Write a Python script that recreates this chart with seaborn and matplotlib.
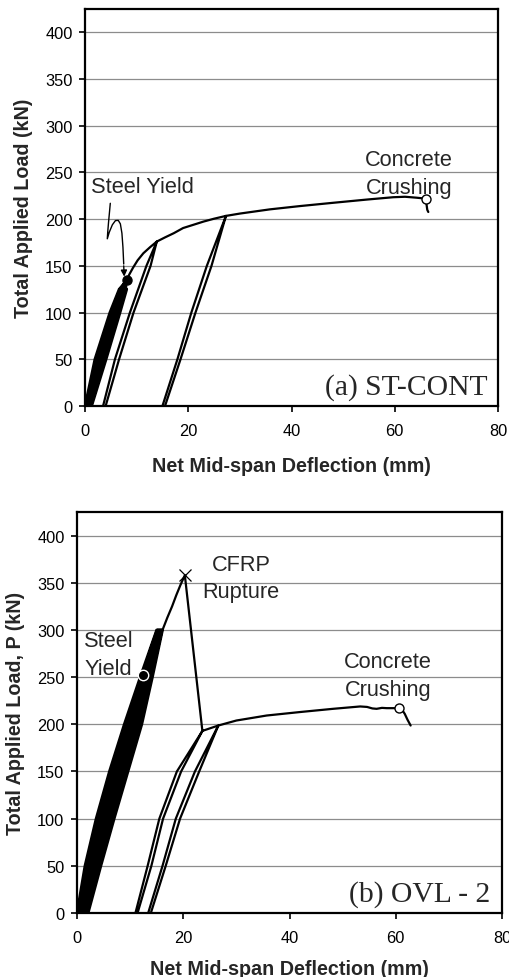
import numpy as np
import pandas as pd
import matplotlib
matplotlib.use("Agg")
import matplotlib.pyplot as plt
import seaborn as sns

# ---------------- data: panel (a) ST-CONT ----------------
# repeated service cycles up to steel yield (load / unload branches)
a_cyc_x = [0.00, 1.90, 4.80, 6.60, 8.0,
           6.79, 5.05, 2.18, 0.16, 0.33,
           2.45, 5.30, 6.98, 8.0,
           7.16, 5.55, 2.73, 0.49, 0.65,
           3.00, 5.80, 7.35, 8.0,
           7.54, 6.05, 3.28, 0.81, 0.98,
           3.55, 6.30, 7.73, 8.0,
           7.91, 6.55, 3.83, 1.14, 1.30,
           4.10, 6.80, 8.10]
a_cyc_y = [0, 50, 100, 125, 134,
           125, 100, 50, 0, 0,
           50, 100, 125, 134,
           125, 100, 50, 0, 0,
           50, 100, 125, 134,
           125, 100, 50, 0, 0,
           50, 100, 125, 134,
           125, 100, 50, 0, 0,
           50, 100, 125]
# post-yield envelope with two unload/reload loops, up to crushing
a_env_x = [8.1, 8.6, 9.3, 10.2, 11.3, 12.6, 13.9,
           12.7, 9.4, 6.6, 4.0, 3.5,
           5.8, 8.7, 11.9, 13.9,
           15.5, 17.2, 19.0, 21.0, 23.0, 25.0, 27.3,
           24.5, 21.4, 18.5, 15.5, 15.0,
           17.9, 20.6, 23.6, 27.3,
           30.0, 35.8, 41.6, 48.0, 54.6, 59.7, 62.0, 64.2, 66.0, 66.2, 66.3, 66.5]
a_env_y = [135, 141, 148, 156, 163.5, 170, 176,
           150, 100, 50, 0, 0,
           50, 100, 150, 176,
           180.5, 185, 190.5, 194, 197.5, 200.5, 203.5,
           150, 100, 50, 0, 0,
           50, 100, 150, 203.5,
           206, 210.5, 214, 217.5, 221, 223.5, 224, 223, 222, 214, 210, 207.7]
a_yield = (8.1, 135)
a_crush = (66.0, 222)
# annotation squiggle for "Steel Yield" (a)
a_arrow_x = [4.9, 4.75, 4.55, 4.4, 4.32, 4.7, 5.3, 5.9, 6.45, 6.85, 7.15, 7.35, 7.5]
a_arrow_y = [217, 208, 196, 186, 179, 186, 194, 198.5, 198.7, 195, 185, 170, 152]

# ---------------- data: panel (b) OVL - 2 ----------------
# repeated cycles up to ~300 kN (load / unload branches)
b_cyc_x = [0.00, 1.50, 3.60, 6.10, 8.90, 11.90, 15.00,
           15.11, 12.13, 9.23, 6.45, 3.94, 1.80, 0.21, 0.42,
           2.10, 4.28, 6.80, 9.56, 12.36, 15.22,
           15.33, 12.59, 9.89, 7.15, 4.62, 2.40, 0.63, 0.84,
           2.70, 4.96, 7.50, 10.22, 12.82, 15.44,
           15.55, 13.05, 10.55, 7.85, 5.30, 3.00, 1.05, 1.26,
           3.30, 5.64, 8.20, 10.88, 13.28, 15.66,
           15.77, 13.51, 11.21, 8.55, 5.98, 3.60, 1.47, 1.68,
           3.90, 6.32, 8.90, 11.54, 13.74, 15.88,
           15.99, 13.97, 11.87, 9.25, 6.66, 4.20, 1.89, 2.10,
           4.50, 7.00, 9.60, 12.20, 14.20, 16.10]
b_cyc_y = [0, 50, 100, 150, 200, 250, 300,
           300, 250, 200, 150, 100, 50, 0, 0,
           50, 100, 150, 200, 250, 300,
           300, 250, 200, 150, 100, 50, 0, 0,
           50, 100, 150, 200, 250, 300,
           300, 250, 200, 150, 100, 50, 0, 0,
           50, 100, 150, 200, 250, 300,
           300, 250, 200, 150, 100, 50, 0, 0,
           50, 100, 150, 200, 250, 300,
           300, 250, 200, 150, 100, 50, 0, 0,
           50, 100, 150, 200, 250, 300]
# final loading to CFRP rupture, drop, two unload/reload loops, crushing
b_env_x = [16.10, 17.0, 17.9, 18.7, 19.5, 20.3,
           23.6,
           19.6, 16.2, 14.0, 11.4, 11.0,
           13.3, 15.5, 18.8, 23.6,
           26.6,
           23.0, 19.4, 16.7, 13.9, 13.4,
           16.1, 18.6, 22.2, 26.6,
           30.0, 35.7, 42.0, 48.2, 53.3, 54.6, 55.6, 56.4, 57.4, 58.3, 60.7,
           61.3, 61.7, 62.2, 62.8]
b_env_y = [300, 313, 325, 337, 348, 358,
           193,
           150, 100, 50, 0, 0,
           50, 100, 150, 193,
           198.7,
           150, 100, 50, 0, 0,
           50, 100, 150, 198.7,
           204, 209.3, 213, 216.4, 218.9, 218.4, 216.8, 216.4, 217.4, 217.1, 217.1,
           214.5, 211, 205, 198.7]
b_yield = (12.4, 252)
b_rupture = (20.3, 358)
b_crush = (60.7, 217.1)

x_ticks = [0, 20, 40, 60, 80]
y_ticks = [0, 50, 100, 150, 200, 250, 300, 350, 400]

# ---------------- style ----------------
sns.set_style("white")
plt.rcParams['font.family'] = ['Liberation Sans', 'DejaVu Sans']

W, H = 509, 978
fig = plt.figure(figsize=(W / 100, H / 100), dpi=100)

ax_a = fig.add_axes([85 / W, 1 - 407 / H, 413 / W, 397 / H])
ax_b = fig.add_axes([77 / W, 1 - 914 / H, 425 / W, 401 / H])

LW = 1.6
TXT = 15.7
LS = 1.42

def style_axes(ax, ylabel, xlab_y, ylab_x):
    ax.set_xlim(0, 80)
    ax.set_ylim(0, 425)
    ax.set_xticks(x_ticks)
    ax.set_yticks(y_ticks)
    ax.yaxis.grid(True, color='#8c8c8c', linewidth=0.9)
    ax.xaxis.grid(False)
    ax.set_axisbelow(True)
    for s in ax.spines.values():
        s.set_color('black')
        s.set_linewidth(1.6)
    ax.tick_params(axis='both', direction='out', length=4, width=1.2,
                   colors='black', labelsize=11.8, bottom=True, left=True)
    ax.tick_params(axis='x', pad=8.5)
    ax.tick_params(axis='y', pad=5)
    ax.set_xlabel('Net Mid-span Deflection (mm)', fontsize=14.2, fontweight='bold')
    ax.set_ylabel(ylabel, fontsize=14.2, fontweight='bold')
    ax.xaxis.set_label_coords(0.5, xlab_y)
    ax.yaxis.set_label_coords(ylab_x, 0.5)

def draw_path(ax, xs, ys, lw):
    df = pd.DataFrame({'x': xs, 'y': ys})
    sns.lineplot(data=df, x='x', y='y', sort=False, estimator=None,
                 color='black', linewidth=lw, ax=ax)

# ---- panel (a)
draw_path(ax_a, a_cyc_x, a_cyc_y, 1.9)
draw_path(ax_a, a_env_x, a_env_y, LW)
ax_a.plot(a_arrow_x, a_arrow_y, color='black', linewidth=1.0)
ax_a.annotate('', xy=(7.6, 138.5), xytext=(7.5, 150),
              arrowprops=dict(arrowstyle='-|>', color='black', lw=1.0,
                              mutation_scale=9, shrinkA=0, shrinkB=0))
ax_a.plot(*a_yield, 'o', color='black', markersize=6.5)
ax_a.plot(*a_crush, 'o', markerfacecolor='white', markeredgecolor='black',
          markersize=6.5, markeredgewidth=1.0)
ax_a.text(11.2, 235, 'Steel Yield', fontsize=TXT, ha='center', va='center')
ax_a.text(62.8, 249, 'Concrete\nCrushing', fontsize=TXT, ha='center', va='center',
          linespacing=LS)
ax_a.text(78, 21, '(a) ST-CONT', fontsize=21.3, ha='right', va='center',
          family=['Liberation Serif', 'DejaVu Serif'])
style_axes(ax_a, 'Total Applied Load (kN)', -0.126, -0.126)

# ---- panel (b)
draw_path(ax_b, b_cyc_x, b_cyc_y, 2.0)
draw_path(ax_b, b_env_x, b_env_y, LW)
ax_b.plot(*b_yield, 'o', markerfacecolor='black', markeredgecolor='white',
          markersize=7.5, markeredgewidth=1.0)
ax_b.plot(*b_rupture, 'x', color='black', markersize=9, markeredgewidth=0.9)
ax_b.plot(*b_crush, 'o', markerfacecolor='white', markeredgecolor='black',
          markersize=6.5, markeredgewidth=1.0)
ax_b.text(1.4, 274, 'Steel\nYield', fontsize=TXT, ha='left', va='center',
          linespacing=LS)
ax_b.text(30.9, 355, 'CFRP\nRupture', fontsize=TXT, ha='center', va='center',
          linespacing=LS)
ax_b.text(58.5, 251.5, 'Concrete\nCrushing', fontsize=TXT, ha='center', va='center',
          linespacing=LS)
ax_b.text(77.7, 21, '(b) OVL - 2', fontsize=21.3, ha='right', va='center',
          family=['Liberation Serif', 'DejaVu Serif'])
style_axes(ax_b, 'Total Applied Load, P (kN)', -0.115, -0.122)

fig.savefig('out.png', dpi=100)
